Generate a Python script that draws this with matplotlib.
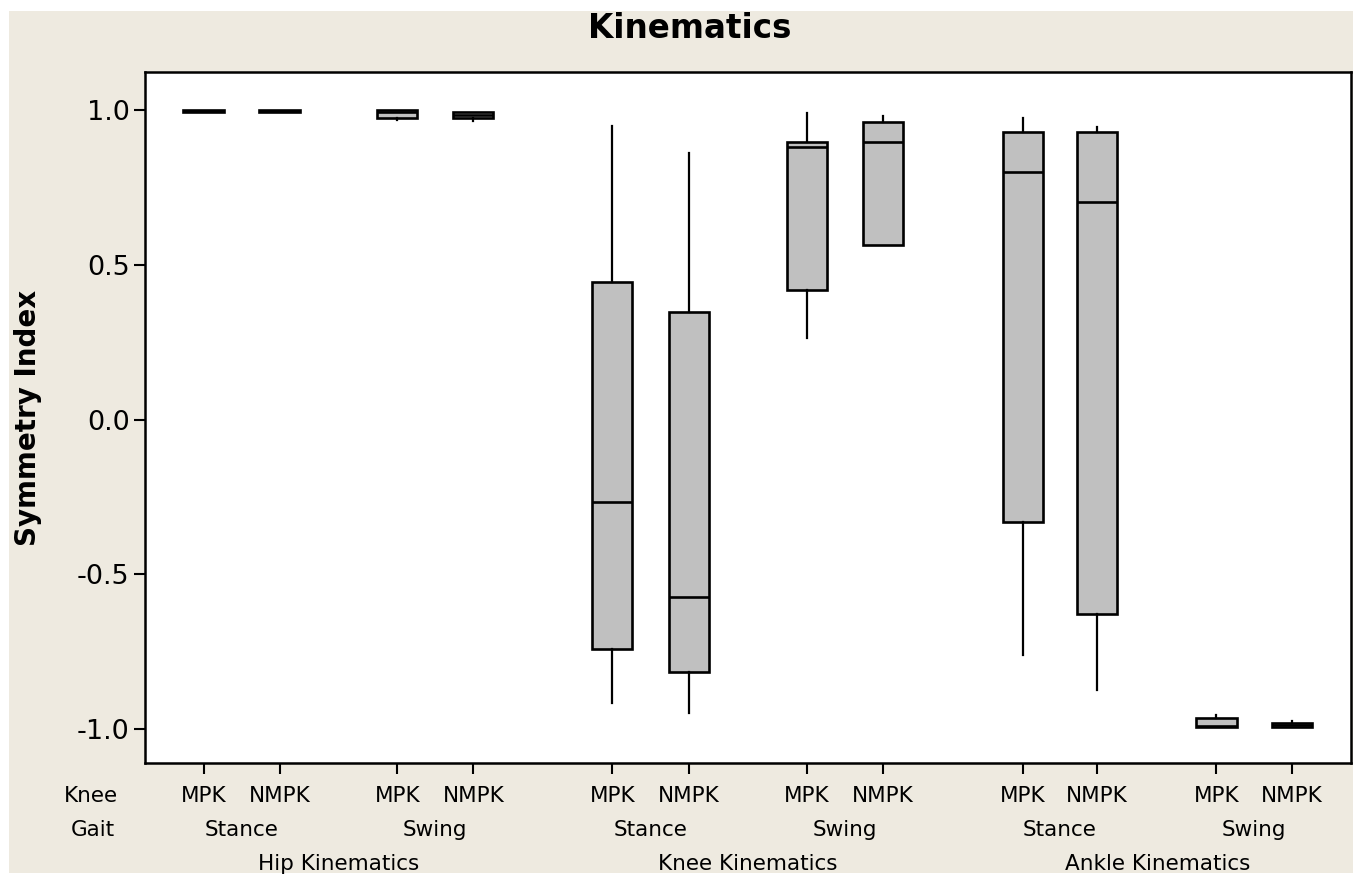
import matplotlib
matplotlib.use("Agg")
import matplotlib.pyplot as plt
import matplotlib.transforms as mtransforms
from matplotlib.patches import Rectangle

# ---- data ----
groups = ["Hip Kinematics", "Knee Kinematics", "Ankle Kinematics"]
gaits = ["Stance", "Swing"]
knees = ["MPK", "NMPK"]

whis_hi = [1.000, 1.000, 1.000, 0.995, 0.948, 0.860, 0.989, 0.981, 0.973, 0.946, -0.954, -0.972]
q3      = [1.000, 1.000, 1.000, 0.993, 0.445, 0.348, 0.897, 0.961, 0.929, 0.929, -0.965, -0.979]
median  = [0.998, 0.998, 0.995, 0.985, -0.266, -0.572, 0.880, 0.897, 0.801, 0.703, -0.990, -0.987]
q1      = [0.993, 0.993, 0.976, 0.975, -0.741, -0.814, 0.419, 0.565, -0.330, -0.629, -0.993, -0.994]
whis_lo = [0.993, 0.993, 0.968, 0.966, -0.914, -0.947, 0.263, 0.565, -0.760, -0.873, -0.994, -0.994]

yticks = [-1.0, -0.5, 0.0, 0.5, 1.0]

# ---- layout ----
W, H = 1358, 877
positions = [1, 2, 3.55, 4.55, 6.38, 7.39, 8.94, 9.94, 11.78, 12.76, 14.33, 15.32]

fig = plt.figure(figsize=(W / 100, H / 100), dpi=100, facecolor="white")
beige = "#EEEAE0"
fig.patches.append(Rectangle((9 / W, 1 - 873 / H), (1353 - 9) / W, (873 - 11) / H,
                             transform=fig.transFigure, facecolor=beige,
                             edgecolor="none", zorder=-10))

ax = fig.add_axes([145 / W, 1 - 763 / H, (1351 - 145) / W, (763 - 72) / H])
ax.set_facecolor("white")

stats = []
for i in range(len(positions)):
    stats.append(dict(whislo=whis_lo[i], q1=q1[i], med=median[i], q3=q3[i],
                      whishi=whis_hi[i], fliers=[]))

ax.bxp(stats, positions=positions, widths=0.53, patch_artist=True,
       showcaps=False, showfliers=False,
       boxprops=dict(facecolor="#C0C0C0", edgecolor="black", linewidth=1.9),
       medianprops=dict(color="black", linewidth=1.9),
       whiskerprops=dict(color="black", linewidth=1.6))

ax.set_xlim(0.23, 16.10)
ax.set_ylim(-1.109, 1.123)
ax.set_yticks(yticks)
ax.set_yticklabels([f"{v:.1f}" for v in yticks], fontsize=19.5)
ax.set_xticks(positions)
ax.set_xticklabels([])
ax.tick_params(axis="both", direction="out", length=8, width=1.5, color="black")
ax.tick_params(axis="y", pad=3)
for s in ax.spines.values():
    s.set_linewidth(1.8)
    s.set_color("black")

# ---- multi-level x labels ----
trans = mtransforms.blended_transform_factory(ax.transData, fig.transFigure)
fs = 15.5
y1, y2, y3 = 1 - 796 / H, 1 - 830 / H, 1 - 864 / H
for i, p in enumerate(positions):
    ax.text(p, y1, knees[i % 2], transform=trans, ha="center", va="center", fontsize=fs)
for j in range(6):
    xc = (positions[2 * j] + positions[2 * j + 1]) / 2
    ax.text(xc, y2, gaits[j % 2], transform=trans, ha="center", va="center", fontsize=fs)
for g in range(3):
    xc = (positions[4 * g] + positions[4 * g + 3]) / 2
    ax.text(xc, y3, groups[g], transform=trans, ha="center", va="center", fontsize=fs)

fig.text(91 / W, y1, "Knee", ha="center", va="center", fontsize=fs)
fig.text(93 / W, y2, "Gait", ha="center", va="center", fontsize=fs)

fig.text(690 / W, 1 - 28 / H, "Kinematics", ha="center", va="center",
         fontsize=23.5, fontweight="bold")
fig.text(28 / W, 1 - 418 / H, "Symmetry Index", ha="center", va="center",
         rotation=90, fontsize=20, fontweight="bold")

fig.savefig("out.png", dpi=100, facecolor=fig.get_facecolor())
